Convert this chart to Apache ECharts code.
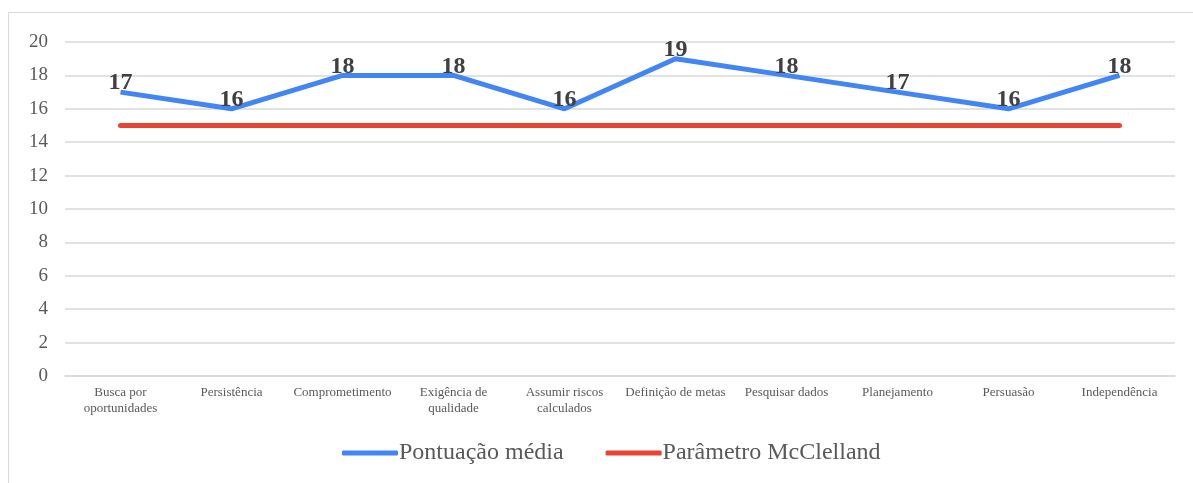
<!DOCTYPE html>
<html>
<head>
<meta charset="utf-8">
<script src="https://cdn.jsdelivr.net/npm/echarts@6/dist/echarts.min.js"></script>
<style>
  html, body { margin: 0; padding: 0; background: #fff; }
  #frame { position: absolute; left: 8px; top: 12px; width: 1200px; height: 480px; border: 1px solid #d9d9d9; box-sizing: border-box; }
  #chart { position: absolute; left: 0; top: 0; width: 1193px; height: 483px; }
</style>
</head>
<body>
<div id="frame"></div>
<div id="chart"></div>
<script>
const categories = [
  'Busca por\noportunidades', 'Persistência', 'Comprometimento', 'Exigência de\nqualidade',
  'Assumir riscos\ncalculados', 'Definição de metas', 'Pesquisar dados', 'Planejamento',
  'Persuasão', 'Independência'
]
const pontuacaoMedia = [17, 16, 18, 18, 16, 19, 18, 17, 16, 18]
const parametroMcClelland = [15, 15, 15, 15, 15, 15, 15, 15, 15, 15]

const chart = echarts.init(document.getElementById('chart'))
const font = '"Liberation Serif", "Times New Roman", serif'

const option = {
  animation: false,
  textStyle: { fontFamily: font },
  grid: { left: 65, right: 18, top: 42, bottom: 107 },
  legend: {
    left: 337,
    bottom: 13,
    itemWidth: 56,
    itemHeight: 5,
    itemGap: 42,
    icon: 'roundRect',
    textStyle: { color: '#595959', fontSize: 24, fontFamily: font, padding: [0, 0, 0, -4] },
    data: ['Pontuação média', 'Parâmetro McClelland']
  },
  xAxis: {
    type: 'category',
    data: categories,
    boundaryGap: true,
    axisLine: { lineStyle: { color: '#d9d9d9', width: 1.5 } },
    axisTick: { show: false },
    axisLabel: { color: '#595959', fontSize: 13, fontFamily: font, margin: 9, lineHeight: 16, interval: 0 }
  },
  yAxis: {
    type: 'value',
    min: 0,
    max: 20,
    interval: 2,
    axisLine: { show: false },
    axisTick: { show: false },
    splitLine: { lineStyle: { color: '#d9d9d9', width: 1.5 } },
    axisLabel: { color: '#595959', fontSize: 19, fontFamily: font, margin: 17 }
  },
  series: [
    {
      name: 'Pontuação média',
      type: 'line',
      data: pontuacaoMedia,
      symbol: 'circle',
      symbolSize: 0,
      lineStyle: { color: '#4285f4', width: 5 },
      itemStyle: { color: '#4285f4' },
      label: {
        show: true,
        position: 'top',
        distance: -3,
        color: '#404040',
        fontSize: 24,
        fontWeight: 'bold',
        fontFamily: font
      }
    },
    {
      name: 'Parâmetro McClelland',
      type: 'line',
      data: parametroMcClelland,
      symbol: 'none',
      lineStyle: { color: '#ea4335', width: 5, cap: 'round' },
      itemStyle: { color: '#ea4335' }
    }
  ]
}
option && chart.setOption(option)
</script>
</body>
</html>
